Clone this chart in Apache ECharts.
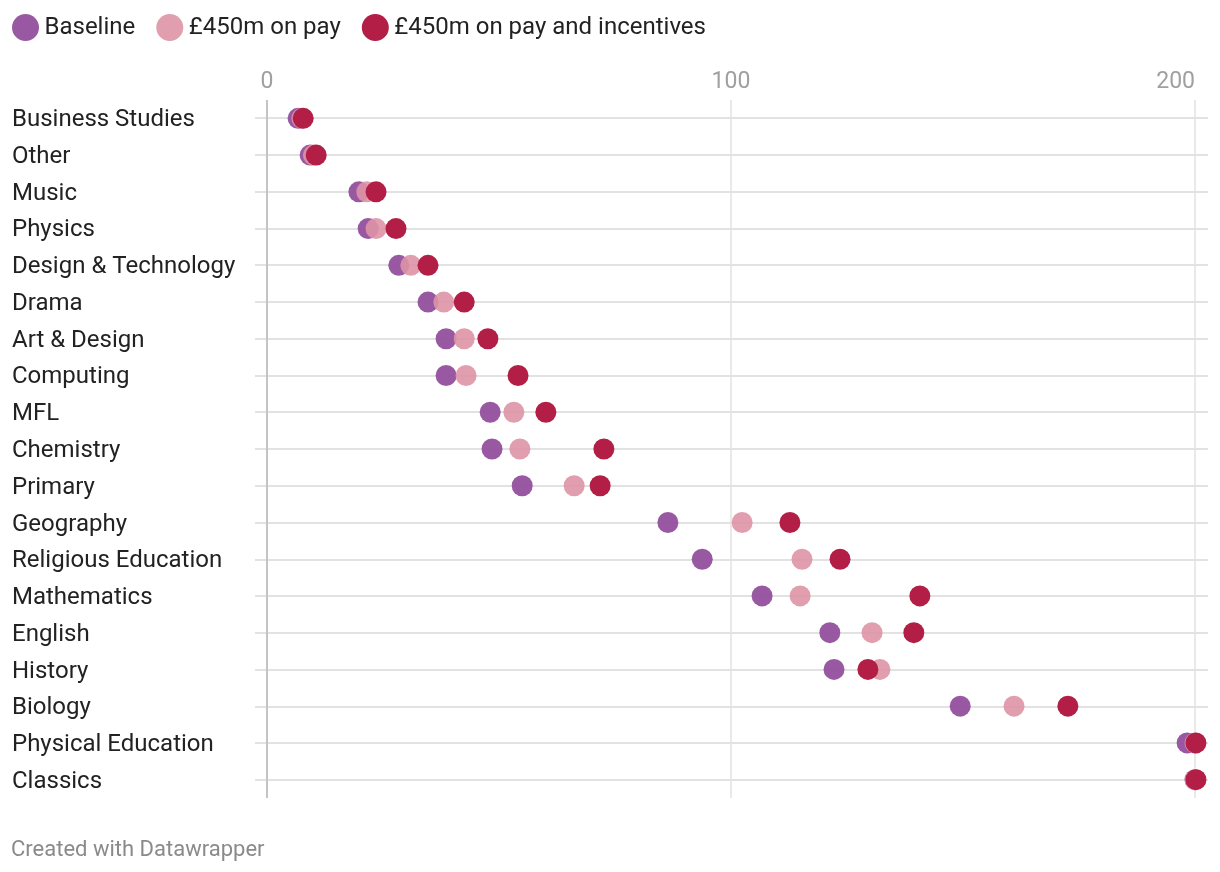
<!DOCTYPE html>
<html><head><meta charset="utf-8">
<script src="https://cdn.jsdelivr.net/npm/echarts@6/dist/echarts.min.js"></script>
<style>html,body{margin:0;padding:0;background:#fff}#c{width:1220px;height:872px}</style>
</head><body><div id="c"></div>
<script>
const categories = ["Business Studies","Other","Music","Physics","Design & Technology","Drama","Art & Design","Computing","MFL","Chemistry","Primary","Geography","Religious Education","Mathematics","English","History","Biology","Physical Education","Classics"];
const baseline   = [6.7, 9.3, 19.8, 21.8, 28.4, 34.7, 38.6, 38.6, 48.1, 48.5, 55.0, 86.4, 93.8, 106.7, 121.3, 122.2, 149.4, 198.3, 200.0];
const payOnly    = [7.5, 10.0, 21.5, 23.5, 31.0, 38.1, 42.5, 42.9, 53.2, 54.5, 66.2, 102.4, 115.3, 114.9, 130.4, 132.1, 161.0, 200.0, 200.0];
const payAndInc  = [7.8, 10.6, 23.5, 27.8, 34.7, 42.5, 47.6, 54.1, 60.1, 72.6, 71.8, 112.7, 123.5, 140.7, 139.4, 129.5, 172.6, 200.2, 200.2];
const seriesNames = ["Baseline","£450m on pay","£450m on pay and incentives"];
const xTicks = [0, 100, 200];

const FONT = 'Roboto, "Noto Sans", sans-serif';
const chart = echarts.init(document.getElementById('c'), null, {renderer:'canvas'});
const mk = (name, data, color, opacity, z) => ({
  name, type:'scatter', xAxisIndex:0, yAxisIndex:0, data: data.map((v,i)=>[v, categories[i]]),
  symbol:'circle', symbolSize:21, itemStyle:{color, opacity}, z, clip:false, emphasis:{disabled:true}
});
chart.setOption({
  animation:false,
  textStyle:{fontFamily:FONT},
  legend:{
    left:7, top:9, itemWidth:28, itemHeight:27, itemGap:21,
    icon:'circle', textStyle:{fontSize:24, color:'#222', fontFamily:FONT, padding:[0,0,0,0]},
    data: seriesNames
  },
  graphic:[{type:'text', left:11, top:839, style:{text:'Created with Datawrapper', fill:'#8a8a8a', font:'22px '+FONT}}],
  grid:[
    {left:267, right:25, top:100, bottom:872-798, containLabel:false},
    {left:255, right:12, top:118, bottom:872-780, containLabel:false},
    {left:267, right:25, top:120, bottom:872-782, containLabel:false}
  ],
  xAxis:[
    {gridIndex:0, type:'value', min:0, max:200, interval:100, position:'top',
     axisLine:{show:false}, axisTick:{show:false},
     axisLabel:{color:'#a0a0a0', fontSize:23, margin:6, fontFamily:FONT, alignMaxLabel:'right',
       formatter: v => xTicks.includes(v) ? String(v) : ''},
     splitLine:{show:true, lineStyle:{color:'#e2e2e2', width:1.5}}},
    {gridIndex:1, type:'value', min:0, max:1, show:false},
    {gridIndex:2, type:'value', min:0, max:1, show:false}
  ],
  yAxis:[
    {gridIndex:0, type:'category', data:categories, inverse:true, boundaryGap:true,
     axisLine:{show:false}, axisTick:{show:false}, splitLine:{show:false}, axisLabel:{show:false}},
    {gridIndex:1, type:'category', data:categories, inverse:true, boundaryGap:false,
     axisLine:{show:false}, axisTick:{show:false}, axisLabel:{show:false},
     splitLine:{show:true, lineStyle:{color:'#e2e2e2', width:2}}},
    {gridIndex:2, type:'category', data:categories, inverse:true, boundaryGap:false,
     axisLine:{show:false}, axisTick:{show:false}, splitLine:{show:false},
     axisLabel:{align:'left', margin:255, fontSize:24, color:'#222', fontFamily:FONT}}
  ],
  series:[
    {type:'line', xAxisIndex:0, yAxisIndex:0, data:[], silent:true,
     markLine:{silent:true, symbol:'none', label:{show:false},
       lineStyle:{color:'#c4c4c4', width:2, type:'solid'}, data:[{xAxis:0}]}, z:3},
    mk(seriesNames[0], baseline, '#93509d', 0.95, 4),
    mk(seriesNames[1], payOnly, '#dd94a5', 0.9, 5),
    mk(seriesNames[2], payAndInc, '#b21e45', 1, 6)
  ]
});
</script></body></html>
